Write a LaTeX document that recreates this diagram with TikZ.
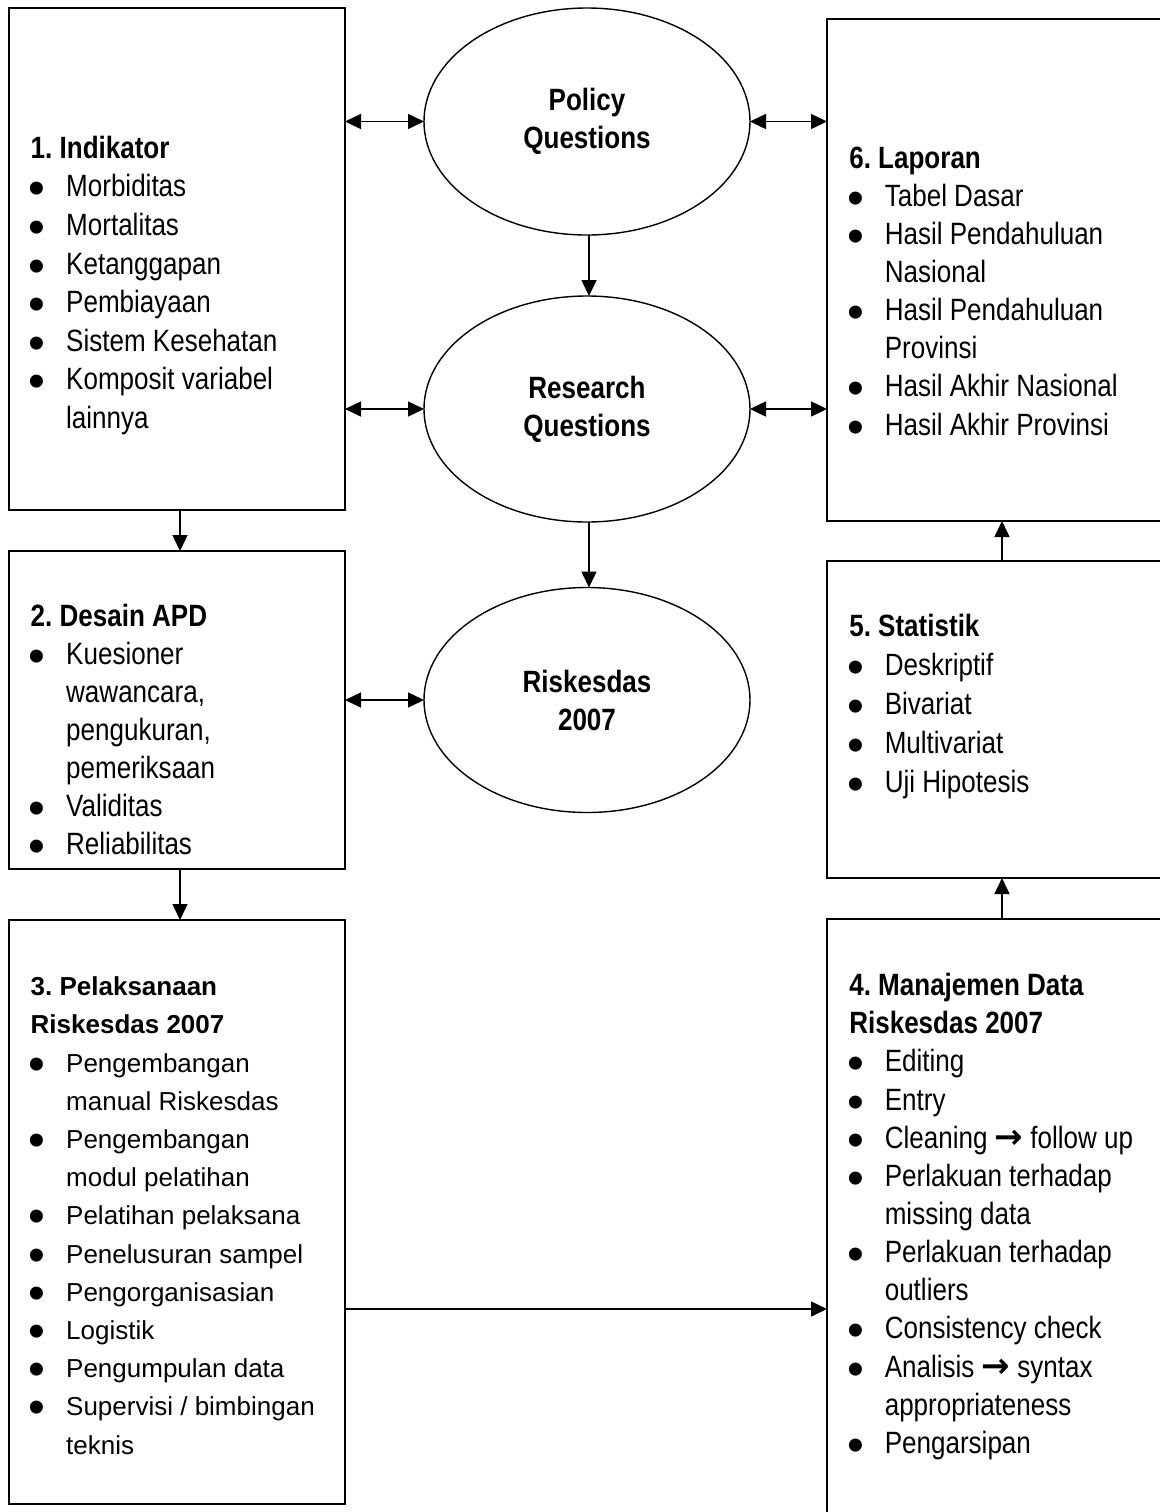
\documentclass[tikz,border=0pt]{standalone}
\usepackage{fontspec}
\usepackage{graphicx}
\setmainfont{Liberation Sans}
\newfontfamily\narrowfont{Liberation Sans}[FakeStretch=0.845]
\newfontfamily\symfont{DejaVu Sans}
\usetikzlibrary{arrows.meta,shapes.geometric}
\frenchspacing
\newcommand\bul{\makebox[17.75pt][l]{\hspace{-1.1pt}\raisebox{-4pt}{\normalfont\fontsize{24pt}{24pt}\selectfont •}}}
\newcommand\cont{\hspace*{17.75pt}}
\newcommand\rarr{{\symfont\bfseries\fontsize{17pt}{17pt}\selectfont →}}
\newcommand\blk[3]{\parbox[t]{175pt}{\fontsize{#1}{#2}\selectfont\raggedright #3}}
\tikzset{
  box/.style={draw, line width=1pt, inner sep=0pt, outer sep=0pt},
  txt/.style={anchor=base west, inner sep=0pt, outer sep=0pt},
  oval/.style={draw, ellipse, line width=0.7pt, inner sep=0pt, outer sep=0pt, align=center,
    minimum width=163pt, font=\narrowfont\bfseries\fontsize{15.4pt}{19pt}\selectfont},
  tip/.tip={Triangle[length=8pt,width=7.5pt]},
  con/.style={line width=0.75pt, -tip},
  dcon/.style={line width=0.75pt, tip-tip},
}
\begin{document}
\begin{tikzpicture}[x=0.5pt, y=-0.5pt]
\clip (0,0) rectangle (1160,1512);
\fill[white] (0,0) rectangle (1160,1512);

% boxes (left column)
\node[box, minimum width=168pt, minimum height=251pt] (b1) at (177,259) {};
\node[box, minimum width=168pt, minimum height=159pt] (b2) at (177,710) {};
\node[box, minimum width=168pt, minimum height=292pt] (b3) at (177,1212) {};
% boxes (right column)
\node[box, minimum width=175pt, minimum height=251pt] (b6) at (1002,270) {};
\node[box, minimum width=175pt, minimum height=158.5pt] (b5) at (1002,719.5) {};
\node[box, minimum width=175pt, minimum height=305pt] (b4) at (1002,1224) {};

% ellipses
\node[oval, minimum height=113.5pt] (pq) at (587,121.5) {Policy\\Questions};
\node[oval, minimum height=113pt] (rq) at (587,409) {Research\\Questions};
\node[oval, minimum height=112.5pt] (rk) at (587,700) {Riskesdas\\2007};

% texts
\node[txt] (t1) at (30.7,158.3) {\narrowfont\blk{15.4pt}{19.3pt}{\textbf{1. Indikator}\\
  \bul Morbiditas\\ \bul Mortalitas\\ \bul Ketanggapan\\ \bul Pembiayaan\\
  \bul Sistem Kesehatan\\ \bul Komposit variabel\\ \cont lainnya}};
\node[txt] (t2) at (30.7,626.7) {\narrowfont\blk{15.4pt}{18.95pt}{\textbf{2. Desain APD}\\
  \bul Kuesioner\\ \cont wawancara,\\ \cont pengukuran,\\ \cont pemeriksaan\\
  \bul Validitas\\ \bul Reliabilitas}};
\node[txt] (t3) at (30.7,995.7) {\blk{13pt}{19.1pt}{\textbf{3. Pelaksanaan}\\
  \textbf{Riskesdas 2007}\\
  \bul Pengembangan\\ \cont manual Riskesdas\\ \bul Pengembangan\\ \cont modul pelatihan\\
  \bul Pelatihan pelaksana\\ \bul Penelusuran sampel\\ \bul Pengorganisasian\\
  \bul Logistik\\ \bul Pengumpulan data\\ \bul Supervisi / bimbingan\\ \cont teknis}};
\node[txt] (t6) at (849.3,168.3) {\narrowfont\blk{15.4pt}{19.05pt}{\textbf{6. Laporan}\\
  \bul Tabel Dasar\\ \bul Hasil Pendahuluan\\ \cont Nasional\\ \bul Hasil Pendahuluan\\
  \cont Provinsi\\ \bul Hasil Akhir Nasional\\ \bul Hasil Akhir Provinsi}};
\node[txt] (t5) at (849.3,636) {\narrowfont\blk{15.4pt}{19.5pt}{\textbf{5. Statistik}\\
  \bul Deskriptif\\ \bul Bivariat\\ \bul Multivariat\\ \bul Uji Hipotesis}};
\node[txt] (t4) at (849.3,995.7) {\narrowfont\blk{15.4pt}{19.07pt}{\textbf{4. Manajemen Data}\\
  \textbf{Riskesdas 2007}\\
  \bul Editing\\ \bul Entry\\ \bul Cleaning \rarr{} follow up\\ \bul Perlakuan terhadap\\
  \cont missing data\\ \bul Perlakuan terhadap\\ \cont outliers\\ \bul Consistency check\\
  \bul Analisis \rarr{} syntax\\ \cont appropriateness\\ \bul Pengarsipan}};

% connectors
\draw[dcon] (b1.east |- pq.west) -- (pq.west);
\draw[dcon] (b1.east |- rq.west) -- (rq.west);
\draw[dcon] (b2.east |- rk.west) -- (rk.west);
\draw[dcon] (pq.east) -- (pq.east -| b6.west);
\draw[dcon] (rq.east) -- (rq.east -| b6.west);
\draw[con] ([xshift=1pt]pq.south) -- ([xshift=1pt]rq.north);
\draw[con] ([xshift=1pt]rq.south) -- ([xshift=1pt]rk.north);
\draw[con] ([xshift=1.5pt]b1.south) -- ([xshift=1.5pt]b2.north);
\draw[con] ([xshift=1.5pt]b2.south) -- ([xshift=1.5pt]b3.north);
\coordinate (m) at (0,1309);
\draw[con] (b3.east |- m) -- (b4.west |- m);
\draw[con] (b4.north) -- (b5.south);
\draw[con] (b5.north) -- (b6.south);
\end{tikzpicture}
\end{document}
